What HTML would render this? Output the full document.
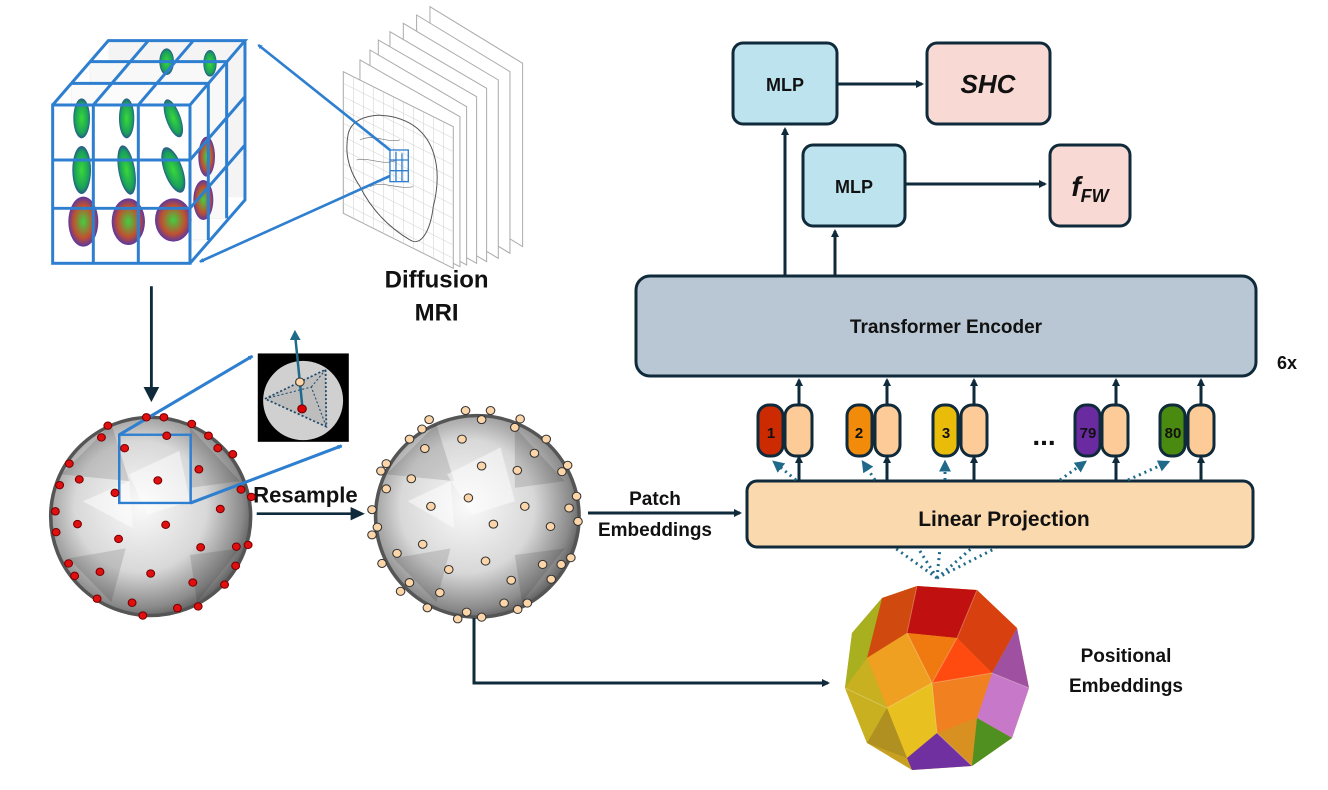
<!DOCTYPE html>
<html><head><meta charset="utf-8"><style>
body{margin:0;background:#fff}
svg{display:block}
text{font-family:"Liberation Sans",sans-serif;font-weight:bold}
</style></head><body>
<svg width="1328" height="790" viewBox="0 0 1328 790" xmlns="http://www.w3.org/2000/svg">
<defs>
<marker id="ah" markerWidth="8" markerHeight="8" refX="6" refY="4" orient="auto" markerUnits="userSpaceOnUse"><path d="M0,0 L8,4 L0,8 Z" fill="#0f2a3a"/></marker>
<marker id="ahb" viewBox="0 0 10 10" markerWidth="14" markerHeight="14" refX="8" refY="5" orient="auto" markerUnits="userSpaceOnUse"><path d="M0,0 L10,5 L0,10 Z" fill="#2f7fd0"/></marker>
<marker id="ahd" viewBox="0 0 10 10" markerWidth="12" markerHeight="12" refX="8" refY="5" orient="auto" markerUnits="userSpaceOnUse"><path d="M0,0 L10,5 L0,10 Z" fill="#1f6a8a"/></marker>
<radialGradient id="sph" cx="45%" cy="45%" r="60%"><stop offset="0" stop-color="#fafafa"/><stop offset="0.55" stop-color="#d8d8d8"/><stop offset="0.85" stop-color="#8a8a8a"/><stop offset="1" stop-color="#4a4a4a"/></radialGradient>
<radialGradient id="odf" cx="50%" cy="50%" r="55%"><stop offset="0" stop-color="#3ad83a"/><stop offset="0.7" stop-color="#1aa05a"/><stop offset="1" stop-color="#2a3aa0"/></radialGradient>
<radialGradient id="odf2" cx="50%" cy="50%" r="55%"><stop offset="0" stop-color="#40d040"/><stop offset="0.6" stop-color="#c05030"/><stop offset="1" stop-color="#4030c0"/></radialGradient>
</defs>

<!-- ============ CUBE + MRI ============ -->
<g transform="scale(0.3333)">
  <rect x="325" y="122" width="410" height="470" fill="#f4f4f4"/>
  <rect x="270" y="185" width="410" height="470" fill="#f8f8f8" stroke="#ddd"/>
  <rect x="215" y="250" width="410" height="470" fill="#fbfbfb" stroke="#ddd"/>
  <rect x="158" y="315" width="412" height="475" fill="#fff" stroke="#ccc"/>
  <ellipse cx="500" cy="185" rx="22" ry="40" fill="url(#odf)"/>
  <ellipse cx="630" cy="190" rx="20" ry="40" fill="url(#odf)"/>
  <ellipse cx="620" cy="470" rx="25" ry="60" fill="url(#odf2)"/>
  <ellipse cx="610" cy="600" rx="30" ry="60" fill="url(#odf2)"/>
  <ellipse cx="245" cy="355" rx="25" ry="60" fill="url(#odf)"/>
  <ellipse cx="380" cy="355" rx="23" ry="60" fill="url(#odf)"/>
  <ellipse cx="520" cy="355" rx="22" ry="60" fill="url(#odf)" transform="rotate(-20 520 355)"/>
  <ellipse cx="245" cy="510" rx="28" ry="72" fill="url(#odf)"/>
  <ellipse cx="380" cy="510" rx="25" ry="75" fill="url(#odf)" transform="rotate(-10 380 510)"/>
  <ellipse cx="520" cy="510" rx="28" ry="72" fill="url(#odf)" transform="rotate(-20 520 510)"/>
  <ellipse cx="250" cy="665" rx="45" ry="75" fill="url(#odf2)"/>
  <ellipse cx="385" cy="665" rx="50" ry="70" fill="url(#odf2)"/>
  <ellipse cx="520" cy="660" rx="55" ry="65" fill="url(#odf2)"/>
  <g stroke="#2f7fd0" stroke-width="9" fill="none">
    <rect x="158" y="315" width="412" height="475"/>
    <path d="M280,315V790 M415,315V790 M158,480H570 M158,625H570"/>
    <path d="M158,315L325,122H735L570,315 M280,315L445,122 M415,315L580,122 M215,250H625 M270,185H680"/>
    <path d="M735,122V600L570,790 M570,480L735,290 M570,625L735,435 M625,250V720 M680,185V655"/>
  </g>
  <g stroke="#aaa" stroke-width="3" fill="#fff">
    <path d="M1290,20 L1568,190 L1568,740 L1290,570Z"/>
    <path d="M1250,45 L1530,215 L1530,760 L1250,590Z"/>
    <path d="M1210,70 L1495,240 L1495,775 L1210,605Z"/>
    <path d="M1170,95 L1460,265 L1460,785 L1170,615Z"/>
    <path d="M1135,120 L1430,290 L1430,790 L1135,625Z"/>
    <path d="M1110,150 L1400,320 L1400,795 L1110,640Z"/>
    <path d="M1080,180 L1380,350 L1380,800 L1080,650Z"/>
    <path d="M1030,215 L1360,380 L1360,805 L1030,640Z"/>
  </g>
  <g stroke="#ccc" stroke-width="1.5">
    <path d="M1030,250L1360,415 M1030,290L1360,455 M1030,330L1360,495 M1030,370L1360,535 M1030,410L1360,575 M1030,450L1360,615 M1030,490L1360,655 M1030,530L1360,695 M1030,570L1360,735 M1030,610L1360,775"/>
    <path d="M1060,230V655 M1090,245V670 M1120,260V685 M1150,275V700 M1180,290V715 M1210,305V730 M1240,320V745 M1270,335V760 M1300,350V775 M1330,365V790"/>
  </g>
  <path d="M1045,400 C1060,340 1160,330 1230,370 C1300,410 1330,500 1300,620 C1290,700 1260,740 1230,720 C1180,690 1120,640 1080,560 C1040,500 1035,450 1045,400Z" fill="none" stroke="#555" stroke-width="3"/>
  <path d="M1080,420 C1120,400 1160,430 1200,420 M1070,480 C1110,470 1150,500 1190,480 M1110,560 C1150,540 1190,570 1240,560" fill="none" stroke="#777" stroke-width="2"/>
  <g stroke="#2f7fd0" stroke-width="4" fill="none"><rect x="1170" y="450" width="55" height="95"/><path d="M1188,455V545 M1206,460V545 M1170,480H1225 M1170,512H1225"/></g>
  <line x1="1170" y1="450" x2="775" y2="135" stroke="#2f7fd0" stroke-width="8" marker-end="url(#ahb)"/>
  <line x1="1170" y1="528" x2="600" y2="785" stroke="#2f7fd0" stroke-width="8" marker-end="url(#ahb)"/>
  <text x="1310" y="862" font-size="72" text-anchor="middle" fill="#111">Diffusion</text>
  <text x="1310" y="962" font-size="72" text-anchor="middle" fill="#111">MRI</text>
</g>

<!-- ============ SPHERES ============ -->
<g transform="translate(40,340) scale(0.357,0.336)">
  <line x1="312" y1="-160" x2="312" y2="150" stroke="#0f2a3a" stroke-width="8"/>
  <path d="M290,140 L334,140 L312,185Z" fill="#0f2a3a"/>
  <ellipse cx="310" cy="525" rx="280" ry="295" fill="url(#sph)" stroke="#555" stroke-width="10"/>
  <g fill="#000" opacity="0.12"><path d="M60,400 L200,250 L250,420Z"/><path d="M420,260 L560,420 L420,440Z"/><path d="M80,650 L240,620 L200,780Z"/><path d="M420,640 L560,620 L440,780Z"/></g>
  <g fill="#fff" opacity="0.5"><path d="M250,400 L390,330 L420,480 L300,520Z"/><path d="M120,480 L250,420 L260,560Z"/></g>
  <ellipse cx="1225" cy="525" rx="285" ry="300" fill="url(#sph)" stroke="#555" stroke-width="10"/>
  <g fill="#000" opacity="0.12"><path d="M970,400 L1110,250 L1160,420Z"/><path d="M1330,260 L1470,420 L1330,440Z"/><path d="M990,650 L1150,620 L1110,780Z"/><path d="M1330,640 L1470,620 L1350,780Z"/></g>
  <g fill="#fff" opacity="0.5"><path d="M1140,400 L1290,320 L1330,480 L1210,520Z"/><path d="M1030,480 L1150,420 L1160,560Z"/></g>
  <rect x="222" y="282" width="200" height="203" fill="none" stroke="#2f7fd0" stroke-width="7"/>
  <line x1="222" y1="282" x2="595" y2="48" stroke="#2f7fd0" stroke-width="9" marker-end="url(#ahb)"/>
  <line x1="422" y1="485" x2="845" y2="315" stroke="#2f7fd0" stroke-width="9" marker-end="url(#ahb)"/>
  <rect x="610" y="40" width="255" height="263" fill="#000"/>
  <ellipse cx="737" cy="180" rx="112" ry="118" fill="#d0d0d0"/>
  <path d="M630,175 L800,88 L802,258Z" fill="#bdbdbd"/>
  <g stroke="#1f4a6a" stroke-width="5" stroke-dasharray="6,6" fill="none"><path d="M630,175 L800,88 L802,258Z"/><path d="M630,175 L760,140 L802,258 M760,140 L800,88" stroke-width="3"/></g>
  <line x1="735" y1="200" x2="715" y2="-10" stroke="#1f6a8a" stroke-width="7"/>
  <path d="M700,0 L730,0 L714,-30Z" fill="#1f6a8a"/>
  <circle cx="728" cy="125" r="12" fill="#fcd5a8" stroke="#333" stroke-width="3"/>
  <circle cx="734" cy="205" r="12" fill="#d00" stroke="#600" stroke-width="3"/>
  <text x="597" y="483" font-size="62" fill="#111" transform="translate(597,483) scale(1,1.0625) translate(-597,-483)">Resample</text>
  <line x1="607" y1="517" x2="880" y2="517" stroke="#0f2a3a" stroke-width="8"/>
  <path d="M870,497 L910,517 L870,537Z" fill="#0f2a3a"/>
  <g fill="#e01010" stroke="#700" stroke-width="3">
    <circle cx="190" cy="255" r="11"/><circle cx="298" cy="230" r="11"/><circle cx="347" cy="230" r="11"/><circle cx="425" cy="250" r="11"/><circle cx="172" cy="290" r="11"/><circle cx="355" cy="285" r="11"/><circle cx="472" cy="285" r="11"/><circle cx="237" cy="322" r="11"/><circle cx="498" cy="322" r="11"/><circle cx="540" cy="340" r="11"/><circle cx="82" cy="368" r="11"/><circle cx="110" cy="415" r="11"/><circle cx="445" cy="385" r="11"/><circle cx="330" cy="418" r="11"/><circle cx="55" cy="432" r="11"/><circle cx="563" cy="445" r="11"/><circle cx="210" cy="455" r="11"/><circle cx="592" cy="467" r="11"/><circle cx="505" cy="503" r="11"/><circle cx="43" cy="510" r="11"/><circle cx="105" cy="548" r="11"/><circle cx="352" cy="550" r="11"/><circle cx="45" cy="572" r="11"/><circle cx="220" cy="592" r="11"/><circle cx="450" cy="617" r="11"/><circle cx="550" cy="615" r="11"/><circle cx="583" cy="610" r="11"/><circle cx="80" cy="665" r="11"/><circle cx="548" cy="672" r="11"/><circle cx="168" cy="690" r="11"/><circle cx="310" cy="695" r="11"/><circle cx="97" cy="702" r="11"/><circle cx="428" cy="722" r="11"/><circle cx="517" cy="728" r="11"/><circle cx="160" cy="770" r="11"/><circle cx="258" cy="782" r="11"/><circle cx="385" cy="798" r="11"/><circle cx="443" cy="793" r="11"/><circle cx="288" cy="820" r="11"/>
  </g>
  <g fill="#fcd5a8" stroke="#333" stroke-width="3">
    <circle cx="1192" cy="210" r="12"/><circle cx="1262" cy="210" r="12"/><circle cx="1090" cy="237" r="12"/><circle cx="1237" cy="237" r="12"/><circle cx="1345" cy="235" r="12"/><circle cx="1070" cy="265" r="12"/><circle cx="1330" cy="260" r="12"/><circle cx="1035" cy="295" r="12"/><circle cx="1182" cy="295" r="12"/><circle cx="1418" cy="295" r="12"/><circle cx="1078" cy="323" r="12"/><circle cx="1385" cy="337" r="12"/><circle cx="970" cy="368" r="12"/><circle cx="955" cy="390" r="12"/><circle cx="1478" cy="373" r="12"/><circle cx="1462" cy="392" r="12"/><circle cx="1040" cy="413" r="12"/><circle cx="1237" cy="375" r="12"/><circle cx="1337" cy="388" r="12"/><circle cx="970" cy="443" r="12"/><circle cx="1200" cy="470" r="12"/><circle cx="1095" cy="495" r="12"/><circle cx="1358" cy="495" r="12"/><circle cx="1503" cy="465" r="12"/><circle cx="1482" cy="500" r="12"/><circle cx="930" cy="505" r="12"/><circle cx="1270" cy="548" r="12"/><circle cx="1507" cy="540" r="12"/><circle cx="1430" cy="555" r="12"/><circle cx="945" cy="557" r="12"/><circle cx="930" cy="580" r="12"/><circle cx="1072" cy="608" r="12"/><circle cx="1000" cy="635" r="12"/><circle cx="1248" cy="658" r="12"/><circle cx="958" cy="665" r="12"/><circle cx="1145" cy="683" r="12"/><circle cx="1408" cy="668" r="12"/><circle cx="1460" cy="668" r="12"/><circle cx="1487" cy="648" r="12"/><circle cx="1320" cy="715" r="12"/><circle cx="1432" cy="712" r="12"/><circle cx="1035" cy="722" r="12"/><circle cx="1120" cy="752" r="12"/><circle cx="1010" cy="748" r="12"/><circle cx="1300" cy="783" r="12"/><circle cx="1365" cy="783" r="12"/><circle cx="1338" cy="802" r="12"/><circle cx="1085" cy="797" r="12"/><circle cx="1195" cy="810" r="12"/><circle cx="1170" cy="830" r="12"/><circle cx="1237" cy="825" r="12"/>
  </g>
</g>

<!-- ============ RIGHT ============ -->
<text x="655" y="505" font-size="19" text-anchor="middle" fill="#111">Patch</text>
<text x="655" y="536" font-size="19" text-anchor="middle" fill="#111">Embeddings</text>
<line x1="588" y1="513" x2="740" y2="513" stroke="#0f2a3a" stroke-width="3" marker-end="url(#ah)"/>

<polyline points="474,618 474,683 828,683" fill="none" stroke="#0f2a3a" stroke-width="3" marker-end="url(#ah)"/>

<g transform="translate(937,678)">
  <path d="M-20,-92 L40,-88 L80,-50 L92,10 L75,60 L35,88 L-25,92 L-70,65 L-92,10 L-85,-45 L-55,-80Z" fill="#c8a020"/>
  <path d="M-20,-92 L40,-88 L20,-40 L-30,-45Z" fill="#c01010"/>
  <path d="M40,-88 L80,-50 L55,-5 L20,-40Z" fill="#d84010"/>
  <path d="M-55,-80 L-20,-92 L-30,-45 L-70,-20Z" fill="#d04a10"/>
  <path d="M-85,-45 L-55,-80 L-70,-20 L-92,10Z" fill="#a8b020"/>
  <path d="M-30,-45 L20,-40 L-5,5 Z" fill="#f07a10"/>
  <path d="M20,-40 L55,-5 L-5,5Z" fill="#ff4a10"/>
  <path d="M-70,-20 L-30,-45 L-5,5 L-50,30Z" fill="#f0a020"/>
  <path d="M80,-50 L92,10 L55,-5Z" fill="#a050a0"/>
  <path d="M92,10 L75,60 L40,40 L55,-5Z" fill="#c878c8"/>
  <path d="M-5,5 L55,-5 L40,40 L0,55Z" fill="#f08020"/>
  <path d="M-92,10 L-70,-20 L-50,30 L-70,65Z" fill="#c8b020"/>
  <path d="M-50,30 L-5,5 L0,55 L-30,80Z" fill="#e8c020"/>
  <path d="M0,55 L40,40 L35,88 Z" fill="#d89020"/>
  <path d="M40,40 L75,60 L35,88Z" fill="#509020"/>
  <path d="M-30,80 L0,55 L35,88 L-25,92Z" fill="#7030a0"/>
  <path d="M-70,65 L-50,30 L-30,80Z" fill="#b09020"/>
  <g stroke="#fff" stroke-opacity="0.25" fill="none" stroke-width="1"><path d="M-20,-92 L-30,-45 L-5,5 L0,55 L35,88 M40,-88 L20,-40 L-5,5 M-92,10 L-50,30 L-5,5 L55,-5 L92,10"/></g>
</g>
<text x="1126" y="662" font-size="19" text-anchor="middle" fill="#111">Positional</text>
<text x="1126" y="692" font-size="19" text-anchor="middle" fill="#111">Embeddings</text>

<g stroke="#1f6a8a" stroke-width="3" stroke-dasharray="2,4" fill="none">
  <path d="M937,578 L895,548 M937,578 L918,548 M937,578 L940,548 M937,578 L972,548 M937,578 L996,548"/>
</g>

<rect x="747" y="481" width="506" height="66" rx="10" fill="#fbd9ae" stroke="#0f2a3a" stroke-width="3"/>
<text x="1004" y="526" font-size="21" text-anchor="middle" fill="#111">Linear Projection</text>

<rect x="636" y="276" width="620" height="100" rx="14" fill="#b8c7d3" stroke="#0f2a3a" stroke-width="3"/>
<text x="946" y="333" font-size="19" text-anchor="middle" fill="#111">Transformer Encoder</text>
<text x="1287" y="369" font-size="18" text-anchor="middle" fill="#111">6x</text>

<g stroke="#0f2a3a" stroke-width="3">
  <rect x="758" y="405" width="25" height="51" rx="11" fill="#cc2a00"/>
  <rect x="785" y="405" width="27" height="51" rx="11" fill="#fdcb98"/>
  <rect x="847" y="405" width="25" height="51" rx="11" fill="#f28a0a"/>
  <rect x="875" y="405" width="25" height="51" rx="11" fill="#fdcb98"/>
  <rect x="933" y="405" width="25" height="51" rx="11" fill="#e8bc08"/>
  <rect x="961" y="405" width="26" height="51" rx="11" fill="#fdcb98"/>
  <rect x="1075" y="405" width="25" height="51" rx="11" fill="#6a2aa0"/>
  <rect x="1102" y="405" width="26" height="51" rx="11" fill="#fdcb98"/>
  <rect x="1160" y="405" width="25" height="51" rx="11" fill="#4a8a10"/>
  <rect x="1188" y="405" width="26" height="51" rx="11" fill="#fdcb98"/>
</g>
<g font-size="15" text-anchor="middle" fill="#111">
  <text x="771" y="438">1</text><text x="859" y="438">2</text><text x="946" y="438">3</text><text x="1088" y="438">79</text><text x="1173" y="438">80</text>
</g>
<text x="1044" y="445" font-size="28" text-anchor="middle" fill="#111">...</text>
<g stroke="#0f2a3a" stroke-width="3" marker-end="url(#ah)">
  <line x1="799" y1="481" x2="799" y2="457"/><line x1="887" y1="481" x2="887" y2="457"/><line x1="974" y1="481" x2="974" y2="457"/><line x1="1116" y1="481" x2="1116" y2="457"/><line x1="1201" y1="481" x2="1201" y2="457"/>
  <line x1="799" y1="405" x2="799" y2="380"/><line x1="887" y1="405" x2="887" y2="380"/><line x1="974" y1="405" x2="974" y2="380"/><line x1="1116" y1="405" x2="1116" y2="380"/><line x1="1201" y1="405" x2="1201" y2="380"/>
</g>
<g stroke="#1f6a8a" stroke-width="3" stroke-dasharray="2,4" marker-end="url(#ahd)">
  <line x1="796" y1="480" x2="774" y2="462"/><line x1="875" y1="480" x2="863" y2="462"/><line x1="945" y1="480" x2="945" y2="462"/><line x1="1060" y1="480" x2="1085" y2="462"/><line x1="1128" y1="480" x2="1168" y2="462"/>
</g>

<rect x="733" y="43" width="104" height="81" rx="10" fill="#bde3ef" stroke="#0f2a3a" stroke-width="3"/>
<text x="785" y="91" font-size="18" text-anchor="middle" fill="#111">MLP</text>
<rect x="927" y="43" width="123" height="81" rx="10" fill="#f9d9d4" stroke="#0f2a3a" stroke-width="3"/>
<text x="988" y="93" font-size="26" text-anchor="middle" fill="#111" font-style="italic" font-family="Liberation Serif,serif">SHC</text>
<line x1="837" y1="84" x2="922" y2="84" stroke="#0f2a3a" stroke-width="3" marker-end="url(#ah)"/>
<rect x="803" y="145" width="102" height="81" rx="10" fill="#bde3ef" stroke="#0f2a3a" stroke-width="3"/>
<text x="854" y="193" font-size="18" text-anchor="middle" fill="#111">MLP</text>
<rect x="1050" y="145" width="80" height="81" rx="10" fill="#f9d9d4" stroke="#0f2a3a" stroke-width="3"/>
<text x="1090" y="196" font-size="28" text-anchor="middle" fill="#111" font-style="italic" font-family="Liberation Serif,serif">f<tspan font-size="18" dy="6">FW</tspan></text>
<line x1="905" y1="184" x2="1045" y2="184" stroke="#0f2a3a" stroke-width="3" marker-end="url(#ah)"/>
<line x1="785" y1="276" x2="785" y2="129" stroke="#0f2a3a" stroke-width="3" marker-end="url(#ah)"/>
<line x1="835" y1="276" x2="835" y2="231" stroke="#0f2a3a" stroke-width="3" marker-end="url(#ah)"/>
</svg>
</body></html>
